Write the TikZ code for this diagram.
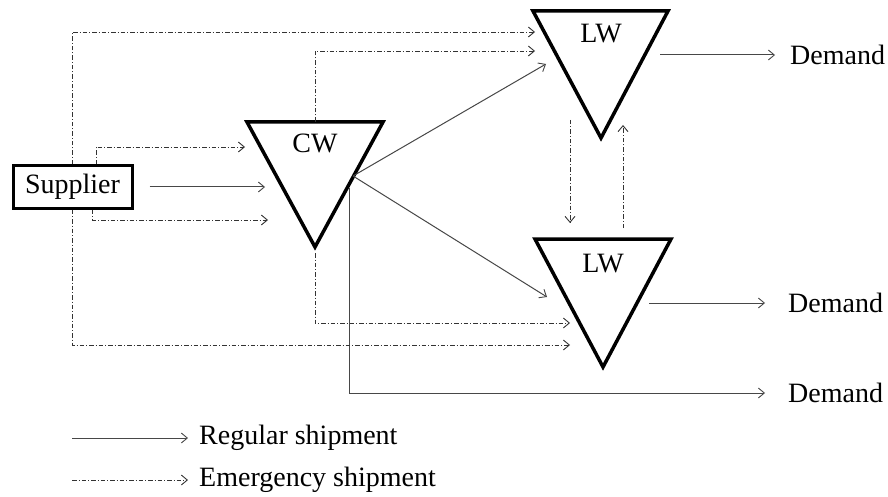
\documentclass[tikz,border=0pt]{standalone}
\usepackage{fontspec}
\setmainfont{Liberation Serif}
\usetikzlibrary{arrows.meta}
\begin{document}
\begin{tikzpicture}[x=1pt,y=-1pt,
  tri/.style={line width=3.5pt, line join=miter},
  tip/.style={-{Straight Barb[length=6pt,width=10pt,line width=0.9pt]}},
  reg/.style={draw=black!72, line width=1pt, tip},
  regl/.style={draw=black!72, line width=1pt},
  emg/.style={draw=black!80, line width=0.8pt, dash pattern=on 4.5pt off 2pt on 1pt off 2pt, tip},
  emgl/.style={draw=black!80, line width=0.8pt, dash pattern=on 4.5pt off 2pt on 1pt off 2pt},
  lbl/.style={font=\fontsize{28}{32}\selectfont, inner sep=0pt},
  box/.style={draw, line width=3pt, minimum width=119pt, minimum height=42pt, inner sep=0pt, font=\fontsize{28}{32}\selectfont}]
\useasboundingbox (0,0) rectangle (888,497);

% supplier
\node[box] (sup) at (72.5,187) {Supplier};

% triangles
\draw[tri] (247,122) -- (383,122) -- (315,247) -- cycle;
\draw[tri] (533,11) -- (668,11) -- (601,138) -- cycle;
\draw[tri] (535,239) -- (671,239) -- (603,367) -- cycle;
\node[lbl] (cw) at (315,143) {CW};
\node[lbl] (lw1) at (601,34) {LW};
\node[lbl] (lw2) at (603,264) {LW};

% named points
\coordinate (cwTop) at (315,122);
\coordinate (cwBot) at (315,253);
\coordinate (cwR) at (353,176);
\coordinate (cwV) at (349,188);
\coordinate (cwIn) at (265,187);
\coordinate (cwE1) at (245,147);
\coordinate (cwE2) at (268,220);
\coordinate (lw1E1) at (535,32);
\coordinate (lw1E2) at (535,51);
\coordinate (lw1R) at (546,64);
\coordinate (lw2R) at (547,297);
\coordinate (lw2E1) at (570,323);
\coordinate (lw2E2) at (570,345);
\coordinate (lw1D) at (570,120);
\coordinate (lw2D) at (570,223);
\coordinate (lw2U) at (623,228);
\coordinate (lw1U) at (623,125);
\coordinate (lw1out) at (660,55);
\coordinate (lw2out) at (649,303);
\coordinate (d1a) at (775,55);
\coordinate (d2a) at (765,303);
\coordinate (corner) at (349,393);
\coordinate (d3a) at (765,393);

% demand labels
\node[lbl, anchor=west] (dem1) at (790,55) {Demand};
\node[lbl, anchor=west] (dem2) at (788,303) {Demand};
\node[lbl, anchor=west] (dem3) at (788,393) {Demand};

% regular shipments
\draw[reg] ([xshift=16pt]sup.east) -- (cwIn);
\draw[reg] (cwR) -- (lw1R);
\draw[reg] (cwR) -- (lw2R);
\draw[reg] (cwV) -- (corner) -- (d3a);
\draw[reg] (lw1out) -- (d1a);
\draw[reg] (lw2out) -- (d2a);

% emergency shipments
\draw[emg] (sup.north) |- (lw1E1);
\draw[emg] ([xshift=23.5pt]sup.north) |- (cwE1);
\draw[emg] ([xshift=20pt]sup.south) |- (cwE2);
\draw[emg] (sup.south) |- (lw2E2);
\draw[emg] (cwTop) |- (lw1E2);
\draw[emg] (cwBot) |- (lw2E1);
\draw[emg] (lw1D) -- (lw2D);
\draw[emg] (lw2U) -- (lw1U);

% legend
\coordinate (l1a) at (72,438);
\coordinate (l1b) at (188,438);
\coordinate (l2a) at (72,480);
\coordinate (l2b) at (188,480);
\draw[reg] (l1a) -- (l1b);
\draw[emg] (l2a) -- (l2b);
\node[lbl, anchor=west] (leg1) at (199,438) {Regular shipment};
\node[lbl, anchor=west] (leg2) at (199,480) {Emergency shipment};
\end{tikzpicture}
\end{document}
